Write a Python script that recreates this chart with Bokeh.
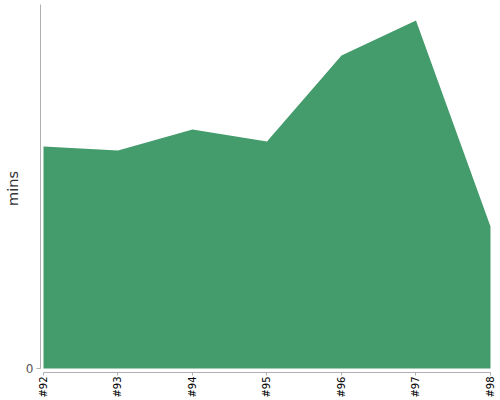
import math
from bokeh.plotting import figure
from bokeh.models import ColumnDataSource, FixedTicker, Range1d
from bokeh.embed import file_html
from bokeh.resources import INLINE

builds = ["#92", "#93", "#94", "#95", "#96", "#97", "#98"]
mins = [22.2, 21.8, 23.9, 22.7, 31.3, 34.8, 14.2]
positions = list(range(len(builds)))

source = ColumnDataSource(data=dict(x=positions, y=mins))

p = figure(width=500, height=400, output_backend="svg", toolbar_location=None,
           x_range=Range1d(-0.0403, 6.027), y_range=Range1d(-0.4, 36.4),
           min_border_left=40, min_border_right=8, min_border_top=4, min_border_bottom=28)
p.outline_line_color = None
p.background_fill_color = "white"
p.border_fill_color = "white"
p.grid.visible = False

p.varea(x="x", y1=0, y2="y", source=source, fill_color="#449b6c", fill_alpha=1.0)

# x axis
xa = p.xaxis[0]
xa.ticker = FixedTicker(ticks=positions)
xa.major_label_overrides = {i: b for i, b in zip(positions, builds)}
xa.major_label_orientation = math.pi / 2
xa.bounds = (0, len(builds) - 1)
xa.axis_line_color = "#b0b0b0"
xa.major_tick_line_color = "#b0b0b0"
xa.major_tick_out = 3
xa.major_tick_in = 0
xa.minor_tick_line_color = None
xa.major_label_text_font = "DejaVu Sans"
xa.major_label_text_font_size = "10px"
xa.major_label_text_color = "#000000"
xa.major_label_standoff = 1

# y axis
ya = p.yaxis[0]
ya.ticker = FixedTicker(ticks=[0])
ya.bounds = (0, 36.4)
ya.axis_line_color = "#b0b0b0"
ya.major_tick_line_color = "#b0b0b0"
ya.major_tick_out = 4
ya.major_tick_in = 0
ya.minor_tick_line_color = None
ya.major_label_text_font = "DejaVu Sans"
ya.major_label_text_font_size = "12px"
ya.major_label_text_color = "#555555"
ya.major_label_standoff = 3
ya.axis_label = "mins"
ya.axis_label_text_font = "DejaVu Sans"
ya.axis_label_text_font_size = "14.5px"
ya.axis_label_text_font_style = "normal"
ya.axis_label_text_color = "#333333"
ya.axis_label_standoff = 2

open("out.html", "w").write(file_html(p, INLINE))
